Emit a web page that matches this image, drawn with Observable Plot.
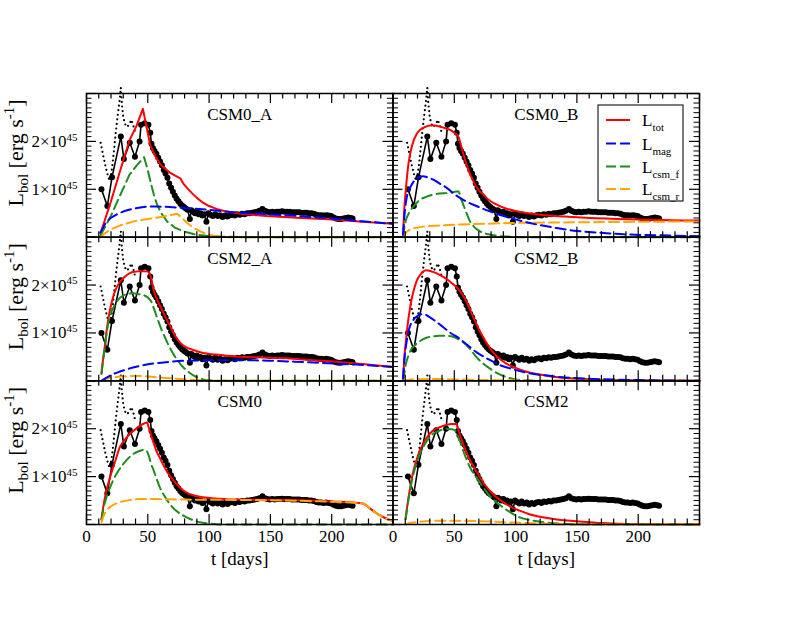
<!DOCTYPE html>
<html>
<head>
<meta charset="utf-8">
<script src="https://cdn.jsdelivr.net/npm/d3@7"></script>
<script src="https://cdn.jsdelivr.net/npm/@observablehq/plot@0.6"></script>
<style>
  body { margin: 0; background: white; }
  #chart { width: 785px; height: 618px; }
  #chart svg, #chart svg text { font-family: "Liberation Serif", serif; }
</style>
</head>
<body>
<div id="chart"></div>
<script>
// ---------------- DATA (luminosity in units of 1e45 erg/s, time in days) ----------------
const obsT = [12.2,17.0,20.8,28.0,30.5,35.3,39.5,43.3,44.5,47.5,50.5,52.0,53.0,54.2,55.5,57.0,58.5,60.0,61.5,63.0,64.5,66.0,67.5,69.0,70.5,72.0,73.5,75.0,76.5,78.0,79.5,81.0,82.5,84.3,85.5,87.0,88.5,90.0,91.5,93.0,94.5,96.0,97.8,99.5,101.0,103.0,105.0,107.0,109.0,111.0,113.0,115.0,117.0,119.0,121.0,123.0,125.0,127.0,129.0,131.0,133.0,135.0,137.0,139.0,141.0,143.5,145.5,147.5,149.5,151.5,153.5,155.5,157.5,159.5,161.5,163.5,165.5,167.5,169.5,171.5,173.5,175.5,177.5,179.5,181.5,183.5,185.5,187.5,189.5,191.5,193.5,195.5,197.5,199.5,201.5,203.5,205.5,207.5,209.5,211.5,213.5,215.5,217.0];
const obsL = [1.00,0.65,1.25,2.10,1.63,1.97,1.68,2.00,2.35,2.38,2.35,2.18,1.95,1.86,1.80,1.74,1.66,1.58,1.50,1.40,1.33,1.24,1.12,1.03,0.95,0.87,0.80,0.75,0.70,0.66,0.63,0.60,0.57,0.38,0.56,0.53,0.50,0.53,0.48,0.50,0.45,0.48,0.32,0.50,0.47,0.44,0.48,0.44,0.46,0.42,0.45,0.43,0.46,0.47,0.45,0.48,0.47,0.49,0.48,0.50,0.50,0.51,0.52,0.53,0.55,0.59,0.55,0.53,0.52,0.53,0.52,0.53,0.53,0.54,0.53,0.53,0.53,0.52,0.52,0.52,0.52,0.51,0.51,0.51,0.50,0.50,0.49,0.47,0.46,0.46,0.45,0.46,0.45,0.44,0.41,0.39,0.38,0.38,0.39,0.40,0.41,0.40,0.39];

// early dotted curves
const dotFall = [[11.5,1.97],[13.5,1.72],[15.5,1.48],[17.5,1.28],[19.2,1.15]];
const dotRise = [[19.5,1.22],[21,1.47],[22.5,1.83],[24,2.22],[25.5,2.55],[27,2.86],[28,3.12],[28.8,2.8],[29.9,2.53],[31.2,2.37],[33,2.3],[35,2.36],[36.5,2.45],[38,2.35],[39.5,2.2]];

// model curves, per panel
const csm0A_tot = [[11.4,0.08],[20,0.75],[27,1.35],[35,2.02],[40.7,2.32],[46,2.68],[49,2.3],[52,1.92],[56,1.7],[60,1.53],[64,1.43],[68,1.35],[72,1.29],[76.5,1.23],[79,1.12],[82,1.03],[86,0.92],[90,0.82],[95,0.72],[100,0.65],[106,0.59],[113,0.54],[120,0.51],[130,0.48],[147,0.44],[175,0.4],[201,0.37],[225,0.32],[250,0.28]];
const csm0A_mag = [[11.4,0.1],[15,0.27],[19.5,0.4],[25,0.48],[30.4,0.54],[37,0.59],[44,0.62],[50,0.64],[57.6,0.64],[68,0.63],[79,0.61],[100,0.57],[120,0.52],[147,0.48],[174,0.44],[200,0.39],[225,0.33],[250,0.28]];
const csm0A_csmf = [[11.4,0.03],[20,0.45],[27,0.85],[35,1.3],[41,1.5],[47,1.67],[50,1.4],[52.1,1.17],[55,0.88],[57.6,0.68],[61,0.5],[65.7,0.33],[72,0.2],[79.2,0.12],[88,0.06],[98,0.03],[110,0.01],[130,0],[250,0]];
const csm0A_csmr = [[11.4,0],[15,0.08],[19.5,0.16],[28,0.25],[38.5,0.33],[50,0.38],[60.3,0.42],[68,0.46],[73.9,0.49],[78,0.4],[82,0.3],[87,0.2],[92.8,0.12],[100,0.05],[106,0.02],[115,0],[250,0]];

const csm0B_tot = [[8.2,0.05],[9,0.5],[10.5,1.0],[12.5,1.51],[14.5,1.8],[16.6,2.0],[19,2.14],[22,2.24],[26,2.3],[30.2,2.33],[34,2.33],[38.3,2.31],[42,2.28],[46.5,2.24],[50,2.18],[53.3,2.1],[56,1.86],[60,1.51],[65.5,1.17],[70,0.98],[73.7,0.89],[78,0.78],[84.6,0.68],[92,0.6],[100.9,0.54],[110,0.5],[120,0.47],[140,0.43],[160.7,0.4],[200,0.37],[242,0.35],[250,0.35]];
const csm0B_mag = [[8.2,0.05],[9.5,0.5],[11,0.8],[13.9,1.03],[16.5,1.15],[19.3,1.22],[22,1.26],[24.7,1.27],[28,1.25],[32.9,1.2],[38,1.12],[43.8,1.03],[50,0.9],[57.3,0.78],[68,0.65],[79,0.54],[92,0.43],[106,0.33],[120,0.25],[133.5,0.19],[150,0.13],[170,0.09],[188,0.06],[215,0.04],[250,0.02]];
const csm0B_csmf = [[8.2,0],[10,0.3],[13.9,0.54],[18,0.68],[22,0.78],[27,0.84],[32.9,0.89],[38,0.91],[43.8,0.92],[49,0.94],[53.3,0.96],[55.5,0.8],[57.3,0.68],[60,0.5],[62.8,0.33],[66,0.22],[71,0.12],[78,0.06],[84.6,0.03],[95,0.01],[110,0],[250,0]];
const csm0B_csmr = [[8.2,0],[10,0.08],[13.9,0.16],[18,0.19],[24.7,0.22],[35,0.24],[52,0.26],[75,0.28],[106,0.3],[150,0.31],[200,0.32],[250,0.33]];

const csm2A_tot = [[12.2,0.15],[13.5,0.45],[14.9,0.71],[16.2,1.0],[17.6,1.26],[19.5,1.52],[21.7,1.75],[24,1.92],[27.1,2.06],[31,2.17],[35.3,2.25],[40,2.28],[43.4,2.29],[47,2.29],[50.2,2.28],[51.8,2.22],[52.9,2.13],[54,1.98],[55.6,1.82],[57.5,1.7],[59.7,1.58],[62.4,1.44],[65.1,1.3],[67.9,1.16],[70.6,1.02],[73.3,0.9],[76,0.81],[80,0.72],[84.1,0.67],[90,0.62],[95,0.58],[105,0.55],[122,0.51],[140,0.49],[163,0.47],[185,0.43],[203.6,0.4],[225,0.35],[250,0.29]];
const csm2A_mag = [[12.2,0],[16,0.06],[21.7,0.14],[28,0.2],[35.3,0.26],[45,0.32],[54.3,0.36],[65,0.39],[81.4,0.42],[108.6,0.43],[130,0.43],[149,0.42],[170,0.4],[190,0.375],[220,0.34],[250,0.29]];
const csm2A_csmf = [[12.2,0.15],[13.5,0.42],[14.9,0.68],[16.2,0.95],[17.6,1.19],[20,1.42],[23,1.58],[26,1.7],[29.9,1.78],[34,1.82],[38,1.83],[43,1.81],[47.5,1.78],[50.5,1.73],[52.9,1.65],[55.5,1.47],[58.4,1.26],[61,1.08],[63.8,0.92],[67,0.74],[70.6,0.57],[74.5,0.42],[78.7,0.29],[84,0.17],[89.6,0.08],[95,0.03],[100,0.01],[110,0],[250,0]];
const csm2A_csmr = [[12.2,0],[16,0.04],[21.7,0.07],[28,0.09],[35.3,0.1],[45,0.1],[54.3,0.08],[65,0.06],[81.4,0.03],[95,0.01],[110,0],[250,0]];

const csm2B_tot = [[8.2,0.05],[9,0.4],[10.9,0.92],[12.2,1.22],[13.6,1.47],[15.5,1.74],[17.7,1.96],[19.5,2.1],[21.8,2.2],[24.5,2.28],[27.2,2.31],[31,2.29],[35.3,2.25],[39,2.2],[43.5,2.13],[47.5,2.05],[51.7,1.96],[54.5,1.88],[57.1,1.78],[60,1.65],[62.5,1.51],[65,1.36],[68,1.19],[70.5,1.05],[73.4,0.92],[77,0.76],[81.6,0.6],[86,0.48],[92.4,0.36],[100,0.27],[108.8,0.19],[120,0.13],[136,0.07],[150,0.045],[163,0.03],[190,0.015],[220,0.005],[250,0]];
const csm2B_mag = [[8.2,0.05],[9.5,0.5],[11,0.8],[12.2,0.99],[14,1.15],[16.3,1.26],[19.5,1.35],[23.1,1.39],[26.5,1.38],[29.9,1.33],[35,1.24],[40.8,1.125],[47,1.0],[54.4,0.88],[61,0.74],[68,0.6],[75,0.49],[81.6,0.4],[88,0.32],[95.2,0.26],[108.8,0.17],[122,0.12],[136,0.08],[163,0.04],[200,0.015],[250,0]];
const csm2B_csmf = [[8.2,0],[9.5,0.2],[10.5,0.35],[12.2,0.5],[14.5,0.64],[17.7,0.74],[22,0.83],[27.2,0.9],[33,0.93],[38,0.94],[44,0.94],[49,0.92],[54,0.86],[58.5,0.78],[63,0.66],[68,0.5],[73,0.37],[78.8,0.26],[85,0.16],[92.4,0.08],[100,0.03],[108.8,0.01],[120,0],[250,0]];
const csm2B_csmr = [[8.2,0],[12,0.02],[20,0.035],[30,0.04],[50,0.03],[80,0.015],[110,0.005],[140,0],[250,0]];

const csm0_tot = [[12.2,0.1],[14,0.42],[16.3,0.71],[19,0.97],[21.7,1.19],[24.5,1.41],[27.1,1.61],[31,1.76],[35.3,1.89],[39.5,1.98],[43.4,2.06],[47,2.11],[49.4,2.13],[50.5,2.05],[52.9,1.85],[55,1.68],[57,1.54],[60,1.38],[62.4,1.26],[65,1.14],[67.9,1.02],[70.5,0.93],[73.3,0.85],[77,0.75],[81.4,0.67],[87,0.61],[95,0.57],[108,0.54],[122,0.52],[163,0.51],[200,0.48],[225.3,0.44],[232,0.32],[238,0.21],[244,0.13],[250,0.07]];
const csm0_csmf = [[12.2,0.1],[14,0.35],[16.3,0.57],[19,0.76],[21.7,0.92],[25.5,1.1],[29.9,1.26],[34,1.38],[38,1.47],[42.5,1.53],[47.5,1.56],[49.5,1.52],[51,1.42],[52.5,1.28],[54.3,1.16],[57,0.97],[59.7,0.78],[63.5,0.6],[67.9,0.43],[73,0.29],[78.7,0.19],[85,0.11],[92.3,0.05],[100,0.02],[115,0],[250,0]];
const csm0_csmr = [[12.2,0.05],[14,0.18],[16.3,0.29],[20,0.38],[24.4,0.44],[29,0.48],[35.3,0.51],[45,0.53],[54.3,0.53],[81.4,0.52],[135.7,0.51],[180,0.49],[225.3,0.44],[232,0.32],[238,0.21],[244,0.13],[250,0.07]];

const csm2_tot = [[10.3,0.12],[12,0.45],[13.6,0.71],[16,1.05],[19,1.33],[21.5,1.52],[24.5,1.68],[28,1.83],[32.6,1.96],[38,2.03],[43.5,2.08],[47.5,2.1],[51.7,2.1],[52.8,2.02],[54.4,1.89],[57,1.7],[59.8,1.51],[62.5,1.36],[65.3,1.23],[68,1.11],[70.7,0.99],[74.5,0.84],[78.8,0.71],[84,0.58],[89.7,0.47],[96,0.37],[103.3,0.29],[112,0.21],[122.3,0.15],[135,0.1],[149.5,0.07],[170,0.03],[190,0.01],[220,0],[250,0]];
const csm2_csmf = [[10.3,0.12],[12,0.42],[13.6,0.67],[16,0.98],[19,1.26],[21.5,1.45],[24.5,1.61],[28,1.76],[32.6,1.89],[38,1.96],[43.5,2.0],[47.5,1.99],[50.3,1.97],[52,1.9],[54.4,1.75],[57,1.56],[59.8,1.37],[63.5,1.16],[68,0.99],[73,0.8],[78.8,0.6],[84,0.47],[89.7,0.36],[96,0.25],[103.3,0.15],[112,0.09],[122.3,0.05],[135,0.02],[150,0.005],[165,0],[250,0]];
const csm2_csmr = [[10.3,0],[14,0.03],[19,0.05],[27,0.07],[35.3,0.08],[50,0.08],[68,0.07],[90,0.05],[108.8,0.03],[130,0.01],[150,0],[250,0]];

const panelNames = ["CSM0_A","CSM0_B","CSM2_A","CSM2_B","CSM0","CSM2"];
const panelCols  = ["A","B","A","B","A","B"];
const panelRows  = ["r0","r0","r1","r1","r2","r2"];

const xTickLabels = [0,50,100,150,200];
const xMajorTicks = [0,50,100,150,200,250];
const xMinorTicks = [10,20,30,40,60,70,80,90,110,120,130,140,160,170,180,190,210,220,230,240];
const yTickLabels = [1,2];
const yMajorTicks = [0,1,2,3];
const yMinorTicks = [0.1,0.2,0.3,0.4,0.5,0.6,0.7,0.8,0.9,1.1,1.2,1.3,1.4,1.5,1.6,1.7,1.8,1.9,2.1,2.2,2.3,2.4,2.5,2.6,2.7,2.8,2.9];

const legendKeys = ["tot","mag","csm_f","csm_r"];
const legendColors = ["#ff0000","#0000ff","#1f8b1f","#ffa500"];

// ---------------- build tables ----------------
const obs = obsT.map((t, i) => ({t, L: obsL[i]}));
const toRows = (arr, col, row) => arr.map(([t, L]) => ({t, L, col, row}));
const panelModels = [
  {col:"A", row:"r0", tot:csm0A_tot, mag:csm0A_mag, csmf:csm0A_csmf, csmr:csm0A_csmr, curve:"linear"},
  {col:"B", row:"r0", tot:csm0B_tot, mag:csm0B_mag, csmf:csm0B_csmf, csmr:csm0B_csmr, curve:"monotone-x"},
  {col:"A", row:"r1", tot:csm2A_tot, mag:csm2A_mag, csmf:csm2A_csmf, csmr:csm2A_csmr, curve:"monotone-x"},
  {col:"B", row:"r1", tot:csm2B_tot, mag:csm2B_mag, csmf:csm2B_csmf, csmr:csm2B_csmr, curve:"monotone-x"},
  {col:"A", row:"r2", tot:csm0_tot, mag:null, csmf:csm0_csmf, csmr:csm0_csmr, curve:"monotone-x"},
  {col:"B", row:"r2", tot:csm2_tot, mag:null, csmf:csm2_csmf, csmr:csm2_csmr, curve:"monotone-x"}
];

const W = 785, H = 618, mT = 93, mB = 94, mL = 86, mR = 86;
const fw = (W - mL - mR) / 2, fh = (H - mT - mB) / 3;
const serif = '"Liberation Serif", serif';

const marks = [];
// observed data
marks.push(Plot.line(obs, {x: "t", y: "L", stroke: "black", strokeWidth: 1.6}));
marks.push(Plot.dot(obs, {x: "t", y: "L", r: 3, fill: "black", stroke: "none"}));
// dotted early curves
for (const arr of [dotFall, dotRise]) {
  marks.push(Plot.line(arr, {x: d => d[0], y: d => d[1], stroke: "black", strokeWidth: 2.2, strokeDasharray: "0,4.6", strokeLinecap: "round"}));
}
// models
const dash = "10,5";
for (const p of panelModels) {
  marks.push(Plot.line(toRows(p.tot, p.col, p.row), {x: "t", y: "L", fx: "col", fy: "row", stroke: legendColors[0], strokeWidth: 2, curve: p.curve}));
  marks.push(Plot.line(toRows(p.csmf, p.col, p.row), {x: "t", y: "L", fx: "col", fy: "row", stroke: legendColors[2], strokeWidth: 2, strokeDasharray: dash, curve: p.curve}));
  marks.push(Plot.line(toRows(p.csmr, p.col, p.row), {x: "t", y: "L", fx: "col", fy: "row", stroke: legendColors[3], strokeWidth: 2, strokeDasharray: dash, curve: p.curve}));
  if (p.mag) marks.push(Plot.line(toRows(p.mag, p.col, p.row), {x: "t", y: "L", fx: "col", fy: "row", stroke: legendColors[1], strokeWidth: 2, strokeDasharray: dash, curve: p.curve}));
}
// frame and inward ticks
marks.push(Plot.frame({stroke: "black", strokeWidth: 1.5}));
marks.push(Plot.tickX(xMajorTicks, {insetTop: fh - 10, stroke: "black", strokeWidth: 1.2}));
marks.push(Plot.tickX(xMajorTicks, {insetBottom: fh - 10, stroke: "black", strokeWidth: 1.2}));
marks.push(Plot.tickX(xMinorTicks, {insetTop: fh - 5.5, stroke: "black", strokeWidth: 1.2}));
marks.push(Plot.tickX(xMinorTicks, {insetBottom: fh - 5.5, stroke: "black", strokeWidth: 1.2}));
marks.push(Plot.tickY(yMajorTicks, {insetRight: fw - 10, stroke: "black", strokeWidth: 1.2}));
marks.push(Plot.tickY(yMajorTicks, {insetLeft: fw - 10, stroke: "black", strokeWidth: 1.2}));
marks.push(Plot.tickY(yMinorTicks, {insetRight: fw - 5.5, stroke: "black", strokeWidth: 1}));
marks.push(Plot.tickY(yMinorTicks, {insetLeft: fw - 5.5, stroke: "black", strokeWidth: 1}));
// axes (labels only)
marks.push(Plot.axisX({anchor: "bottom", ticks: xTickLabels, tickSize: 0, tickPadding: 5, label: null, fontSize: 17}));
marks.push(Plot.axisY({anchor: "left", ticks: yTickLabels, tickSize: 0, tickPadding: 9, label: null, fontSize: 17, tickFormat: d => `${d}×10`}));
// panel titles
const titles = panelNames.map((name, i) => ({name, col: panelCols[i], row: panelRows[i]}));
marks.push(Plot.text(titles, {fx: "col", fy: "row", text: "name", frameAnchor: "top", lineAnchor: "middle", dy: 21, fontSize: 17, fill: "black"}));
// x axis titles
marks.push(Plot.text(["A","B"], {fx: d => d, fy: () => "r2", text: () => "t [days]", frameAnchor: "bottom", lineAnchor: "middle", dy: 34, fontSize: 19, fill: "black"}));

const plot = Plot.plot({
  width: W, height: H,
  marginTop: mT, marginBottom: mB, marginLeft: mL, marginRight: mR,
  style: {fontFamily: serif, fontSize: "17px", color: "black", background: "white", overflow: "visible"},
  x: {domain: [0, 250]},
  y: {domain: [0, 3]},
  fx: {domain: ["A","B"], padding: 0, round: false, axis: null},
  fy: {domain: ["r0","r1","r2"], padding: 0, round: false, axis: null},
  marks
});
document.getElementById("chart").appendChild(plot);

// ---------------- post-processing: superscripts, y labels, legend ----------------
const svg = d3.select(plot);
svg.selectAll('g[aria-label="y-axis tick label"] text').each(function () {
  d3.select(this).append("tspan").attr("dy", "-0.55em").attr("font-size", "11px").text("45");
});

const gl = svg.append("g").attr("font-family", serif).attr("fill", "black");
for (let i = 0; i < 3; i++) {
  const cy = mT + i * fh + 60;
  const t = gl.append("text")
    .attr("transform", `translate(23,${cy}) rotate(-90)`)
    .attr("text-anchor", "middle")
    .attr("font-size", 22)
    .style("white-space", "pre");
  t.append("tspan").text("L");
  t.append("tspan").attr("font-size", 15).attr("dy", 5).text("bol");
  t.append("tspan").attr("dy", -5).text(" [erg s");
  t.append("tspan").attr("font-size", 15).attr("dy", -9).text("-1");
  t.append("tspan").attr("dy", 9).text("]");
}

const lg = svg.append("g").attr("transform", "translate(598,105)").attr("font-family", serif).attr("text-anchor", "start");
lg.append("rect").attr("width", 85).attr("height", 96).attr("fill", "white").attr("stroke", "#222").attr("stroke-width", 1.2);
const rowsY = [15, 38.5, 61.5, 84];
legendKeys.forEach((k, i) => {
  lg.append("line").attr("x1", 8).attr("x2", 32).attr("y1", rowsY[i]).attr("y2", rowsY[i])
    .attr("stroke", legendColors[i]).attr("stroke-width", 2)
    .attr("stroke-dasharray", i === 0 ? null : "10,4");
  const tx = lg.append("text").attr("x", 44).attr("y", rowsY[i] + 6).attr("font-size", 17).attr("fill", "black").attr("text-anchor", "start");
  tx.append("tspan").text("L");
  tx.append("tspan").attr("font-size", 11).attr("dy", 5).text(k);
});
</script>
</body>
</html>
